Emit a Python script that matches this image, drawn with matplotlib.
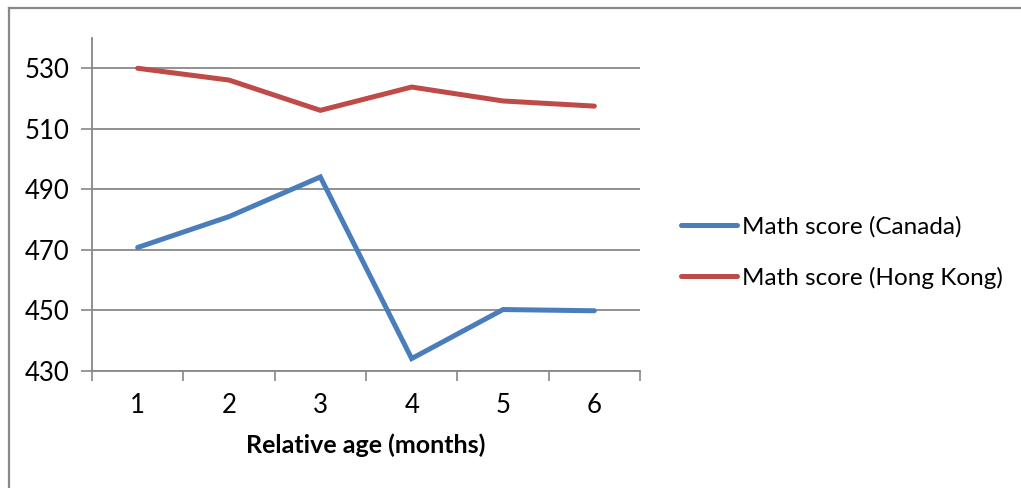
import matplotlib
matplotlib.use("Agg")
import matplotlib.pyplot as plt
from matplotlib.lines import Line2D

plt.rcParams['font.family'] = ['Lato', 'DejaVu Sans']

months = [1, 2, 3, 4, 5, 6]
month_labels = ["1", "2", "3", "4", "5", "6"]
canada = [470.8, 481.0, 494.1, 434.1, 450.3, 449.9]
hong_kong = [530.0, 526.1, 516.1, 523.8, 519.2, 517.5]
y_ticks = [430, 450, 470, 490, 510, 530]
series_names = ["Math score (Canada)", "Math score (Hong Kong)"]
x_title = "Relative age (months)"

W, H = 1021, 488
fig = plt.figure(figsize=(W / 100, H / 100), dpi=100)

# outer frame (left and top edges visible)
fig.add_artist(Line2D([8.5 / W, 8.5 / W], [0, 1 - 7.5 / H], color="#888888", lw=1.6))
fig.add_artist(Line2D([8.5 / W, 1], [1 - 7.5 / H, 1 - 7.5 / H], color="#888888", lw=1.6))

ax = fig.add_axes([92 / W, 1 - 371 / H, (640 - 92) / W, (371 - 38) / H])
blue = "#4A7EBB"
red = "#BE4B48"
ax.plot(months, canada, color=blue, lw=3.6, solid_capstyle="round", solid_joinstyle="miter", label=series_names[0], zorder=3)
ax.plot(months, hong_kong, color=red, lw=3.6, solid_capstyle="round", solid_joinstyle="miter", label=series_names[1], zorder=3)

ax.set_xlim(0.5, 6.5)
ax.set_ylim(430, 540)
ax.set_yticks(y_ticks)
ax.set_xticks(months)
ax.set_xticklabels(month_labels)
ax.set_xticks([m + 0.5 for m in [0] + months], minor=True)
ax.tick_params(axis="x", which="major", length=0, pad=16, labelsize=18.5)
ax.tick_params(axis="x", which="minor", length=7, width=1.2, color="#888888", direction="out")
ax.tick_params(axis="y", which="major", length=8, width=1.2, color="#888888", direction="out", pad=8, labelsize=18.5)
ax.grid(axis="y", color="#888888", lw=1.3)
for s in ["top", "right"]:
    ax.spines[s].set_visible(False)
for s in ["left", "bottom"]:
    ax.spines[s].set_color("#888888")
    ax.spines[s].set_linewidth(1.3)
ax.set_xlabel(x_title, fontsize=18, fontweight="bold", labelpad=11)

leg = fig.legend(loc="center left", bbox_to_anchor=(659 / W, 1 - 252.5 / H), frameon=False,
                 fontsize=17.5, handlelength=2.3, handletextpad=0.2, labelspacing=1.2)
for h in leg.get_lines():
    h.set_linewidth(3.6)

fig.savefig("out.png", dpi=100)
